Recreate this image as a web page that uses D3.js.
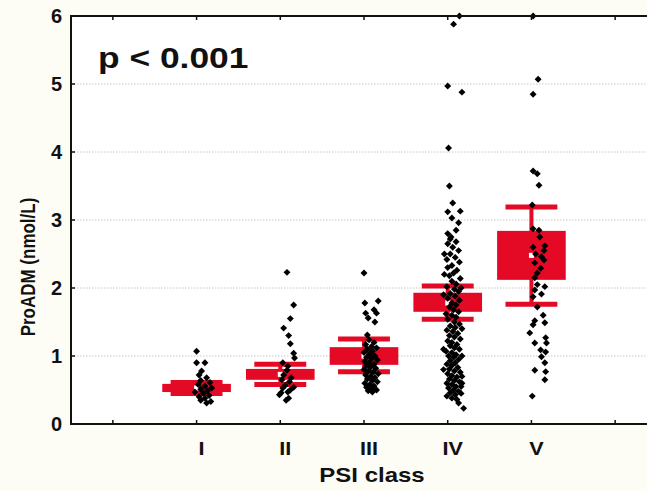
<!DOCTYPE html>
<html><head><meta charset="utf-8">
<script src="https://cdn.jsdelivr.net/npm/d3@7"></script>
<style>body{margin:0;background:#fdfcf5;overflow:hidden} svg{display:block}</style>
</head><body>
<script>
// ---- data ----
const categories = ["I", "II", "III", "IV", "V"];
const categoryPos = [1, 2, 3, 4, 5];
const xTickPos = [0, 1, 2, 3, 4, 5, 6];
const yTicks = [0, 1, 2, 3, 4, 5, 6];
const gridValues = [1, 2, 3, 4, 5];
const means   = [0.53, 0.73, 1.00, 1.78, 2.48];
const boxLow  = [0.47, 0.65, 0.87, 1.65, 2.12];
const boxHigh = [0.59, 0.81, 1.13, 1.93, 2.84];
const capLow  = [0.45, 0.58, 0.77, 1.54, 1.76];
const capHigh = [0.61, 0.88, 1.25, 2.03, 3.19];
const pValueText = "p < 0.001";
const xTitle = "PSI class";
const yTitle = "ProADM (nmol/L)";

// [value, horizontal jitter in category units]
const pointsI = [[1.07,0.0],[0.90,0.0],[0.90,0.10],[0.78,0.06],[0.72,0.03],[0.68,0.12],[0.64,0.05],[0.61,0.16],[0.58,0.02],[0.56,0.10],[0.53,0.18],[0.51,0.05],[0.49,0.13],[0.47,-0.02],[0.45,0.08],[0.42,0.15],[0.40,0.03],[0.38,0.10],[0.35,0.05],[0.33,0.17],[0.31,0.12]];
const pointsII = [[2.23,0.08],[1.75,0.16],[1.55,0.12],[1.41,0.04],[1.30,0.10],[1.18,0.12],[1.04,0.16],[0.97,0.17],[0.90,0.03],[0.85,0.09],[0.79,0.08],[0.72,0.04],[0.68,0.13],[0.65,0.02],[0.62,0.11],[0.57,0.06],[0.54,0.16],[0.53,0.03],[0.50,0.12],[0.47,0.09],[0.46,0.01],[0.43,-0.01],[0.38,0.10],[0.35,0.07]];
const pointsIII = [[2.22,0.0],[1.81,0.17],[1.78,0.01],[1.68,0.12],[1.63,0.02],[1.63,0.15],[1.56,0.05],[1.50,0.13],[1.31,0.04],[1.24,0.06],[1.20,0.12],[1.17,0.02],[1.14,0.09],[1.12,0.15],[1.10,0.04],[1.07,0.10],[1.05,0.0],[1.03,0.07],[1.00,0.13],[0.98,0.03],[0.96,0.09],[0.94,0.16],[0.92,0.01],[0.90,0.06],[0.88,0.12],[0.86,0.03],[0.84,0.08],[0.82,0.14],[0.80,0.0],[0.78,0.05],[0.76,0.11],[0.74,0.17],[0.72,0.02],[0.70,0.08],[0.68,0.13],[0.66,0.04],[0.64,0.10],[0.62,0.16],[0.60,0.01],[0.58,0.07],[0.56,0.12],[0.54,0.03],[0.52,0.09],[0.50,0.15],[0.49,0.05],[0.47,0.10]];
const pointsIV = [[6.0,0.14],[5.88,0.07],[4.97,0.0],[4.88,0.17],[4.06,0.01],[3.50,0.02],[3.25,0.06],[3.13,0.15],[3.12,0.0],[3.03,0.05],[2.96,0.13],[2.85,0.10],[2.80,0.0],[2.75,0.04],[2.72,0.03],[2.68,0.10],[2.65,0.0],[2.60,0.06],[2.55,0.13],[2.50,0.03],[2.50,-0.04],[2.45,0.09],[2.42,-0.01],[2.38,0.14],[2.33,0.05],[2.30,0.0],[2.26,0.11],[2.22,0.07],[2.20,-0.04],[2.18,0.02],[2.14,0.15],[2.10,0.05],[2.06,0.10],[2.02,-0.01],[2.00,0.16],[1.98,0.08],[1.95,0.13],[1.92,0.03],[1.90,-0.05],[1.88,0.09],[1.85,0.0],[1.82,0.14],[1.78,0.05],[1.75,0.10],[1.72,0.02],[1.68,0.07],[1.65,0.13],[1.62,-0.02],[1.60,0.05],[1.57,0.10],[1.54,0.0],[1.50,0.08],[1.47,0.14],[1.44,0.03],[1.42,0.09],[1.40,0.17],[1.38,-0.01],[1.36,0.06],[1.33,0.12],[1.30,0.02],[1.28,0.08],[1.25,0.15],[1.22,0.0],[1.20,0.05],[1.17,0.11],[1.15,0.03],[1.12,0.08],[1.10,0.14],[1.10,-0.05],[1.07,-0.02],[1.05,0.05],[1.02,0.10],[1.00,0.01],[1.00,0.17],[0.98,0.07],[0.95,0.13],[0.93,0.03],[0.90,0.09],[0.88,-0.01],[0.86,0.05],[0.83,0.12],[0.81,0.02],[0.80,-0.05],[0.78,0.08],[0.76,0.15],[0.74,0.0],[0.71,0.05],[0.70,0.17],[0.69,0.11],[0.66,0.02],[0.64,0.08],[0.62,0.14],[0.60,-0.01],[0.60,0.17],[0.58,0.05],[0.55,0.10],[0.55,0.16],[0.53,0.01],[0.50,0.07],[0.48,0.13],[0.46,0.03],[0.45,0.16],[0.43,0.09],[0.41,-0.01],[0.38,0.05],[0.36,0.11],[0.31,0.13],[0.23,0.19]];
const pointsV = [[6.0,0.02],[5.07,0.08],[4.85,0.02],[3.72,0.02],[3.68,0.07],[3.51,0.09],[3.22,0.01],[2.87,0.02],[2.85,0.09],[2.75,0.10],[2.62,0.16],[2.60,0.02],[2.55,0.15],[2.50,0.05],[2.46,0.12],[2.41,0.15],[2.37,0.04],[2.29,0.11],[2.22,0.07],[2.15,0.04],[2.05,0.07],[2.02,0.16],[1.97,0.04],[1.91,0.12],[1.87,0.02],[1.72,0.07],[1.60,0.14],[1.52,0.04],[1.49,0.16],[1.46,0.02],[1.34,-0.02],[1.27,0.17],[1.19,0.04],[1.19,0.18],[1.09,0.11],[1.06,0.17],[0.99,0.12],[0.90,0.16],[0.79,0.04],[0.77,0.17],[0.65,0.16],[0.41,0.01]];
const pointGroups = [pointsI, pointsII, pointsIII, pointsIV, pointsV];

// ---- layout ----
const W = 647, H = 491;
const plotLeft = 71, plotTop = 16, plotBottom = 424, plotRight = 657;
const red = "#e40a26";
const ink = "#111111";
const font = "'Liberation Sans', Arial, sans-serif";

const svg = d3.select("body").append("svg").attr("width", W).attr("height", H);
const x = d3.scaleLinear().domain([-0.5, 6.5]).range([plotLeft, plotRight]);
const y = d3.scaleLinear().domain([0, 6]).range([plotBottom, plotTop]);
const bw = x(0.41) - x(0);   // half box width
const cw = x(0.31) - x(0);   // half cap width

svg.append("rect").attr("x", plotLeft).attr("y", plotTop).attr("width", W - plotLeft).attr("height", plotBottom - plotTop).attr("fill", "#ffffff");

// grid
svg.append("g").selectAll("line").data(gridValues).join("line")
  .attr("x1", plotLeft).attr("x2", W).attr("y1", d => y(d)).attr("y2", d => y(d))
  .attr("stroke", "#c8c8c8").attr("stroke-width", 1).attr("stroke-dasharray", "1.5,1.5");

// boxes
const gB = svg.append("g");
categoryPos.forEach((c, i) => {
  const cx = x(c);
  gB.append("line").attr("x1", cx).attr("x2", cx).attr("y1", y(capLow[i])).attr("y2", y(capHigh[i]))
    .attr("stroke", red).attr("stroke-width", 4);
  gB.append("rect").attr("x", cx - bw).attr("width", 2 * bw)
    .attr("y", y(boxHigh[i])).attr("height", y(boxLow[i]) - y(boxHigh[i])).attr("fill", red);
  [capLow[i], capHigh[i]].forEach(v => {
    gB.append("line").attr("x1", cx - cw).attr("x2", cx + cw).attr("y1", y(v)).attr("y2", y(v))
      .attr("stroke", red).attr("stroke-width", 5);
  });
  gB.append("rect").attr("x", cx - 2.5).attr("y", y(means[i]) - 2.5).attr("width", 5).attr("height", 5).attr("fill", "#ffffff");
});

// points
const sym = d3.symbol().type(d3.symbolSquare).size(24);
const gP = svg.append("g");
pointGroups.forEach((pts, i) => {
  gP.selectAll(null).data(pts).join("path")
    .attr("d", sym)
    .attr("transform", d => `translate(${x(categoryPos[i] + d[1])},${y(d[0])}) rotate(45)`)
    .attr("fill", "#000");
});

// frame
svg.append("path").attr("d", `M${W + 5},${plotTop}H${plotLeft}V${plotBottom}H${W + 5}`)
  .attr("fill", "none").attr("stroke", ink).attr("stroke-width", 2);

// ticks (inward)
svg.append("g").selectAll("line").data(xTickPos).join("line")
  .attr("x1", d => x(d)).attr("x2", d => x(d)).attr("y1", plotBottom).attr("y2", plotBottom - 4)
  .attr("stroke", ink).attr("stroke-width", 1.5);
svg.append("g").selectAll("line").data(xTickPos).join("line")
  .attr("x1", d => x(d)).attr("x2", d => x(d)).attr("y1", plotTop).attr("y2", plotTop + 4)
  .attr("stroke", ink).attr("stroke-width", 1.5);
svg.append("g").selectAll("line").data(yTicks).join("line")
  .attr("x1", plotLeft).attr("x2", plotLeft + 4).attr("y1", d => y(d)).attr("y2", d => y(d))
  .attr("stroke", ink).attr("stroke-width", 1.5);

// tick labels
svg.append("g").selectAll("text").data(yTicks).join("text")
  .attr("x", 62).attr("y", d => y(d)).attr("dy", "0.36em")
  .attr("text-anchor", "end").attr("font-family", font).attr("font-weight", "bold")
  .attr("font-size", 20).attr("fill", ink).text(d => d);

svg.append("g").selectAll("text").data(categories).join("text")
  .attr("transform", (d, i) => `translate(${x(categoryPos[i]) + 5},455) scale(1.2,1)`)
  .attr("text-anchor", "middle").attr("font-family", font).attr("font-weight", "bold")
  .attr("font-size", 18).attr("fill", ink).text(d => d);

// titles
svg.append("text").attr("transform", "translate(372,482) scale(1.2,1)")
  .attr("text-anchor", "middle").attr("font-family", font).attr("font-weight", "bold")
  .attr("font-size", 20).attr("fill", ink).text(xTitle);

svg.append("text").attr("transform", "translate(35,267) scale(1.15,1) rotate(-90)")
  .attr("text-anchor", "middle").attr("font-family", font).attr("font-weight", "bold")
  .attr("font-size", 17).attr("fill", ink).text(yTitle);

svg.append("text").attr("transform", "translate(98,68) scale(1.22,1)")
  .attr("font-family", font).attr("font-weight", "bold")
  .attr("font-size", 29).attr("fill", ink).text(pValueText);
</script>
</body></html>
